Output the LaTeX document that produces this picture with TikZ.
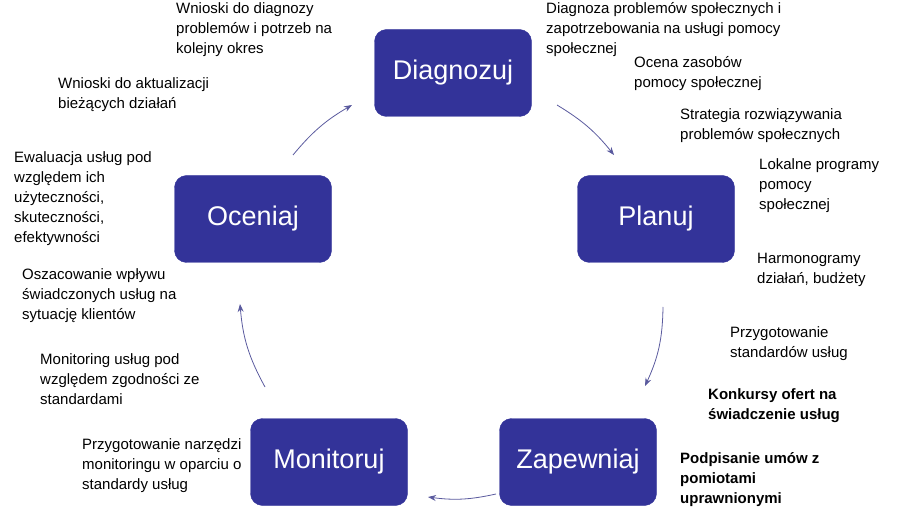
\documentclass[tikz,border=0pt]{standalone}
\usepackage{fontspec}
\setmainfont{Liberation Sans}
\usetikzlibrary{positioning,arrows.meta}
\definecolor{boxblue}{HTML}{333399}
\definecolor{arrowblue}{HTML}{5A5A9E}
\begin{document}
\begin{tikzpicture}[x=1pt,y=-1pt,
  phase/.style={draw=boxblue, fill=boxblue, rounded corners=12pt, text=white, minimum width=157pt, minimum height=87pt, font=\fontsize{27}{30}\selectfont},
  note/.style={anchor=north west, inner sep=0pt, align=left, font=\fontsize{15}{20}\selectfont},
  bnote/.style={note, font=\fontsize{15}{20}\selectfont\bfseries},
  cycle/.style={draw=arrowblue, line width=0.8pt, -{Stealth[length=8pt,width=6pt]}}]
  \useasboundingbox (0,0) rectangle (900,521);
	% Phases
	\node[phase] (diag) at (453,73) {Diagnozuj};
	\node[phase] (plan) at (656,219) {Planuj};
	\node[phase] (zap) at (578,462) {Zapewniaj};
	\node[phase] (mon) at (329,462) {Monitoruj};
	\node[phase] (oce) at (253,219) {Oceniaj};
	
	% Cycle arrows
	\coordinate (a1) at (557,105); \coordinate (b1) at (614,155);
	\coordinate (a2) at (663,307); \coordinate (b2) at (645,386);
	\coordinate (a3) at (496,494); \coordinate (b3) at (428,497);
	\coordinate (a4) at (265,387); \coordinate (b4) at (240,304);
	\coordinate (a5) at (293,155); \coordinate (b5) at (352,105);
	\draw[cycle] (a1) to[bend left=10] (b1);
	\draw[cycle] (a2) to[bend left=12] (b2);
	\draw[cycle] (a3) to[bend left=10] (b3);
	\draw[cycle] (a4) to[bend left=12] (b4);
	\draw[cycle] (a5) to[bend left=10] (b5);
	
	% Notes
	\node[note] (n1) at (176,2) {Wnioski do diagnozy\\problemów i potrzeb na\\kolejny okres};
	\node[note] (n2) at (546,2) {Diagnoza problemów społecznych i\\zapotrzebowania na usługi pomocy\\społecznej};
	\node[note] (n3) at (634,56) {Ocena zasobów\\pomocy społecznej};
	\node[note] (n4) at (680,108) {Strategia rozwiązywania\\problemów społecznych};
	\node[note] (n5) at (759,158) {Lokalne programy\\pomocy\\społecznej};
	\node[note] (n6) at (757,253) {Harmonogramy\\działań, budżety};
	\node[note] (n7) at (730,326) {Przygotowanie\\standardów usług};
	\node[bnote] (n8) at (708,388) {Konkursy ofert na\\świadczenie usług};
	\node[bnote] (n9) at (680,452) {Podpisanie umów z\\pomiotami\\uprawnionymi};
	\node[note] (n10) at (82,438) {Przygotowanie narzędzi\\monitoringu w oparciu o\\standardy usług};
	\node[note] (n11) at (40,353) {Monitoring usług pod\\względem zgodności ze\\standardami};
	\node[note] (n12) at (22,268) {Oszacowanie wpływu\\świadczonych usług na\\sytuację klientów};
	\node[note] (n13) at (14,151) {Ewaluacja usług pod\\względem ich\\użyteczności,\\skuteczności,\\efektywności};
	\node[note] (n14) at (58,77) {Wnioski do aktualizacji\\bieżących działań};
\end{tikzpicture}
\end{document}
